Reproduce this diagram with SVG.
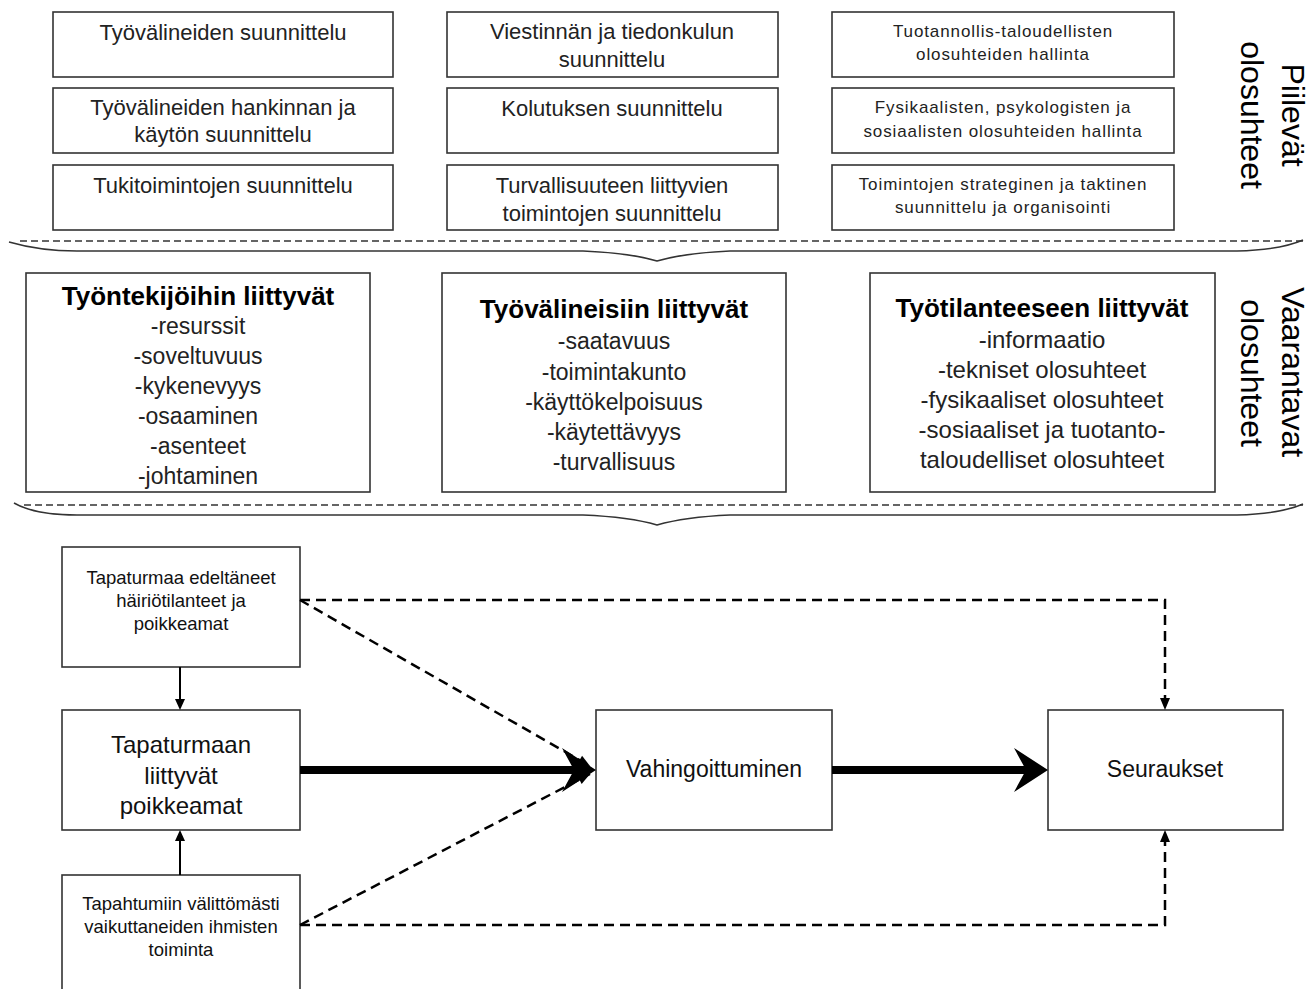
<svg xmlns="http://www.w3.org/2000/svg" width="1309" height="989" viewBox="0 0 1309 989">
<style>
.box{fill:#fff;stroke:#333;stroke-width:1.6}
.t{font-family:"Liberation Sans",Arial,sans-serif;fill:#222;text-anchor:middle}
.t22{font-size:22px}
.t17{font-size:17px;letter-spacing:0.9px}
.h{font-size:26px;font-weight:bold;fill:#000}
.i23{font-size:23px}
.i24{font-size:24px}
.side{font-size:32px;fill:#000}
.b18{font-size:18.5px;fill:#111}
.b24{font-size:24px;fill:#111}
.b23{font-size:23px;fill:#111}
.brace{fill:none;stroke:#333;stroke-width:1.6}
.bdash{fill:none;stroke:#333;stroke-width:1.6;stroke-dasharray:7 4}
.dash{fill:none;stroke:#000;stroke-width:2.5;stroke-dasharray:10 6}
.thin{fill:none;stroke:#000;stroke-width:2}
.thick{fill:none;stroke:#000;stroke-width:8}
.head{fill:#000;stroke:none}
</style>
<defs>
<marker id="ah" viewBox="-13 -6 14 12" refX="0" refY="0" markerWidth="14" markerHeight="12" markerUnits="userSpaceOnUse" orient="auto">
<path d="M0,0 L-12,-5 L-12,5 Z" fill="#000"/>
</marker>
</defs>
<rect x="0" y="0" width="1309" height="989" fill="#fff"/>

<!-- Top row: latent conditions -->
<g id="n-tyovalineiden-suunnittelu"><rect class="box" x="53" y="12" width="340" height="65"/><text class="t t22" x="223" y="40">Työvälineiden suunnittelu</text></g>
<g id="n-hankinta"><rect class="box" x="53" y="88" width="340" height="65"/><text class="t t22" x="223" y="115">Työvälineiden hankinnan ja</text><text class="t t22" x="223" y="142">käytön suunnittelu</text></g>
<g id="n-tukitoiminnot"><rect class="box" x="53" y="165" width="340" height="65"/><text class="t t22" x="223" y="193">Tukitoimintojen suunnittelu</text></g>

<g id="n-viestinta"><rect class="box" x="447" y="12" width="331" height="65"/><text class="t t22" x="612" y="39">Viestinnän ja tiedonkulun</text><text class="t t22" x="612" y="67">suunnittelu</text></g>
<g id="n-koulutus"><rect class="box" x="447" y="88" width="331" height="65"/><text class="t t22" x="612" y="116">Kolutuksen suunnittelu</text></g>
<g id="n-turvallisuus"><rect class="box" x="447" y="165" width="331" height="65"/><text class="t t22" x="612" y="193">Turvallisuuteen liittyvien</text><text class="t t22" x="612" y="221">toimintojen suunnittelu</text></g>

<g id="n-tuotannollis"><rect class="box" x="832" y="12" width="342" height="65"/><text class="t t17" x="1003" y="37">Tuotannollis-taloudellisten</text><text class="t t17" x="1003" y="60">olosuhteiden hallinta</text></g>
<g id="n-fysikaalisten"><rect class="box" x="832" y="88" width="342" height="65"/><text class="t t17" x="1003" y="113">Fysikaalisten, psykologisten ja</text><text class="t t17" x="1003" y="137">sosiaalisten olosuhteiden hallinta</text></g>
<g id="n-strateginen"><rect class="box" x="832" y="165" width="342" height="65"/><text class="t t17" x="1003" y="190">Toimintojen strateginen ja taktinen</text><text class="t t17" x="1003" y="213">suunnittelu ja organisointi</text></g>

<g id="label-piilevat">
<text class="t side" transform="translate(1282,115) rotate(90)">Piilevät</text>
<text class="t side" transform="translate(1241,115) rotate(90)">olosuhteet</text>
</g>

<!-- Brace 1 -->
<g id="brace-1">
<path class="bdash" d="M20,241 L1303,241"/>
<path class="brace" d="M9,242 Q40,251 77,251 L583,251 Q630,253 657,261 Q685,253 730,251 L1237,251 Q1280,250 1303,240"/>
</g>

<!-- Middle row: hazardous conditions -->
<g id="n-tyontekijat"><rect class="box" x="26" y="273" width="344" height="219"/>
<text class="t h" x="198" y="305">Työntekijöihin liittyvät</text>
<text class="t i23" x="198" y="334">-resurssit</text>
<text class="t i23" x="198" y="364">-soveltuvuus</text>
<text class="t i23" x="198" y="394">-kykenevyys</text>
<text class="t i23" x="198" y="424">-osaaminen</text>
<text class="t i23" x="198" y="454">-asenteet</text>
<text class="t i23" x="198" y="484">-johtaminen</text>
</g>
<g id="n-tyovalineet"><rect class="box" x="442" y="273" width="344" height="219"/>
<text class="t h" x="614" y="318">Työvälineisiin liittyvät</text>
<text class="t i23" x="614" y="349">-saatavuus</text>
<text class="t i23" x="614" y="380">-toimintakunto</text>
<text class="t i23" x="614" y="410">-käyttökelpoisuus</text>
<text class="t i23" x="614" y="440">-käytettävyys</text>
<text class="t i23" x="614" y="470">-turvallisuus</text>
</g>
<g id="n-tyotilanne"><rect class="box" x="870" y="273" width="345" height="219"/>
<text class="t h" x="1042" y="317">Työtilanteeseen liittyvät</text>
<text class="t i24" x="1042" y="348">-informaatio</text>
<text class="t i24" x="1042" y="378">-tekniset olosuhteet</text>
<text class="t i24" x="1042" y="408">-fysikaaliset olosuhteet</text>
<text class="t i24" x="1042" y="438">-sosiaaliset ja tuotanto-</text>
<text class="t i24" x="1042" y="468">taloudelliset olosuhteet</text>
</g>

<g id="label-vaarantavat">
<text class="t side" transform="translate(1282,372) rotate(90)">Vaarantavat</text>
<text class="t side" transform="translate(1241,373) rotate(90)">olosuhteet</text>
</g>

<!-- Brace 2 -->
<g id="brace-2">
<path class="bdash" d="M24,505 L1303,505"/>
<path class="brace" d="M14,503 Q35,515 77,515 L583,515 Q630,517 657,525 Q685,517 730,515 L1237,515 Q1280,514 1303,504"/>
</g>

<!-- Bottom: accident process -->
<g id="n-edeltaneet"><rect class="box" x="62" y="547" width="238" height="120"/>
<text class="t b18" x="181" y="584">Tapaturmaa edeltäneet</text>
<text class="t b18" x="181" y="607">häiriötilanteet ja</text>
<text class="t b18" x="181" y="630">poikkeamat</text>
</g>
<g id="n-poikkeamat"><rect class="box" x="62" y="710" width="238" height="120"/>
<text class="t b24" x="181" y="753">Tapaturmaan</text>
<text class="t b24" x="181" y="784">liittyvät</text>
<text class="t b24" x="181" y="814">poikkeamat</text>
</g>
<g id="n-toiminta"><rect class="box" x="62" y="875" width="238" height="130"/>
<text class="t b18" x="181" y="910">Tapahtumiin välittömästi</text>
<text class="t b18" x="181" y="933">vaikuttaneiden ihmisten</text>
<text class="t b18" x="181" y="956">toiminta</text>
</g>
<g id="n-vahingoittuminen"><rect class="box" x="596" y="710" width="236" height="120"/>
<text class="t b23" x="714" y="777">Vahingoittuminen</text>
</g>
<g id="n-seuraukset"><rect class="box" x="1048" y="710" width="235" height="120"/>
<text class="t b23" x="1165" y="777">Seuraukset</text>
</g>

<g id="connectors">
<path class="thin" d="M180,667 L180,701"/>
<path class="head" d="M180,710 L175,699 L185,699 Z"/>
<path class="thin" d="M180,875 L180,839"/>
<path class="head" d="M180,830 L175,841 L185,841 Z"/>
<path class="thick" d="M300,770 L576,770"/>
<path class="head" d="M596,770 L562,748 L574,770 L562,792 Z"/>
<path class="thick" d="M832,770 L1028,770"/>
<path class="head" d="M1048,770 L1014,748 L1026,770 L1014,792 Z"/>
<path class="dash" d="M300,600 L590,766" marker-end="url(#ah)"/>
<path class="dash" d="M300,925 L590,774" marker-end="url(#ah)"/>
<path class="dash" d="M300,600 L1165,600 L1165,710" marker-end="url(#ah)"/>
<path class="dash" d="M300,925 L1165,925 L1165,830" marker-end="url(#ah)"/>
</g>
</svg>
